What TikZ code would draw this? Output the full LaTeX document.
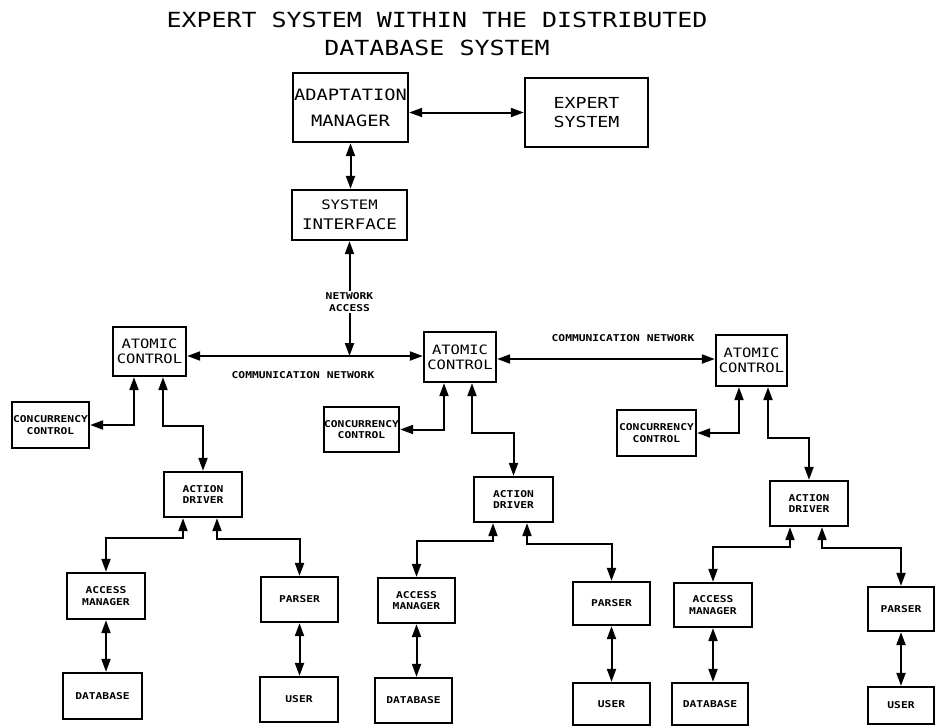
\documentclass[tikz,border=0pt]{standalone}
\usepackage{fontspec}
\usetikzlibrary{arrows.meta}
\newfontfamily\pf{DejaVu Sans Mono}[FakeStretch=1.2]
\tikzset{
  box/.style={draw, line width=2.3pt, inner sep=0pt, align=center},
  dbl/.style={line width=2pt, {Triangle[length=13pt,width=9pt]}-{Triangle[length=13pt,width=9pt]}},
  ttl/.style={font=\pf\fontsize{20.8}{28}\selectfont, align=center},
  midf/.style={font=\pf\fontsize{12.9}{15}\selectfont},
  sml/.style={font=\pf\bfseries\fontsize{9.4}{11.5}\selectfont},
  lbl/.style={font=\pf\bfseries\fontsize{9.4}{12}\selectfont, align=center},
}
\begin{document}
\begin{tikzpicture}[x=1pt,y=-1pt]
\useasboundingbox (0,0) rectangle (936,726);
% title
\node[ttl] (title) at (437,34) {EXPERT SYSTEM WITHIN THE DISTRIBUTED\\DATABASE SYSTEM};
% top boxes
\node[box, minimum width=115pt, minimum height=69pt, font=\pf\fontsize{15.6}{26}\selectfont] (am) at (350.5,107.5) {ADAPTATION\\MANAGER};
\node[box, minimum width=123pt, minimum height=69pt, font=\pf\fontsize{15.2}{19}\selectfont] (es) at (586.5,112.5) {EXPERT\\SYSTEM};
\node[box, minimum width=115pt, minimum height=50pt, font=\pf\fontsize{14.6}{20}\selectfont] (si) at (349.5,215) {{\fontsize{13}{13}\selectfont SYSTEM}\\INTERFACE};
\coordinate (j1) at (349.5,356);
\coordinate (j2) at (600,359);
% atomic controls
\node[box, midf, minimum width=73pt, minimum height=49pt] (lac) at (149.5,351.5) {ATOMIC\\CONTROL};
\node[box, midf, minimum width=72pt, minimum height=50pt] (mac) at (460,357) {ATOMIC\\CONTROL};
\node[box, midf, minimum width=71pt, minimum height=51pt] (rac) at (751.5,360.5) {ATOMIC\\CONTROL};
% concurrency controls
\node[box, sml, minimum width=77pt, minimum height=46pt] (lcc) at (50.5,425) {CONCURRENCY\\CONTROL};
\node[box, sml, minimum width=75pt, minimum height=45pt] (mcc) at (361.5,429.5) {CONCURRENCY\\CONTROL};
\node[box, sml, minimum width=79pt, minimum height=46pt] (rcc) at (656.5,433) {CONCURRENCY\\CONTROL};
% action drivers
\node[box, sml, minimum width=78pt, minimum height=45pt] (lad) at (203,494.5) {ACTION\\DRIVER};
\node[box, sml, minimum width=79pt, minimum height=45pt] (mad) at (513.5,499.5) {ACTION\\DRIVER};
\node[box, sml, minimum width=78pt, minimum height=45pt] (rad) at (809,503.5) {ACTION\\DRIVER};
% access managers
\node[box, sml, minimum width=78pt, minimum height=46pt] (lam) at (106,596) {ACCESS\\MANAGER};
\node[box, sml, minimum width=77pt, minimum height=45pt] (mam) at (416.5,600.5) {ACCESS\\MANAGER};
\node[box, sml, minimum width=78pt, minimum height=44pt] (ram) at (713,605) {ACCESS\\MANAGER};
% databases
\node[box, sml, minimum width=79pt, minimum height=46pt] (ldb) at (102.5,696) {DATABASE};
\node[box, sml, minimum width=77pt, minimum height=45pt] (mdb) at (413.5,700.5) {DATABASE};
\node[box, sml, minimum width=76pt, minimum height=42pt] (rdb) at (710,704) {DATABASE};
% parsers
\node[box, sml, minimum width=77pt, minimum height=45pt] (lpa) at (299.5,599.5) {PARSER};
\node[box, sml, minimum width=77pt, minimum height=43pt] (mpa) at (611.5,603.5) {PARSER};
\node[box, sml, minimum width=66pt, minimum height=44pt] (rpa) at (901,609) {PARSER};
% users
\node[box, sml, minimum width=78pt, minimum height=45pt] (lus) at (299,699.5) {USER};
\node[box, sml, minimum width=77pt, minimum height=42pt] (mus) at (611.5,704) {USER};
\node[box, sml, minimum width=66pt, minimum height=37pt] (rus) at (901,705.5) {USER};
% top connectors
\draw[dbl] (am.east |- es.west) -- (es.west);
\draw[dbl] (am.south) -- (am.south |- si.north);
\draw[dbl] (si.south) -- node[pos=0.53, fill=white, inner sep=1.5pt, lbl] {NETWORK\\ACCESS} (j1);
% communication network
\draw[dbl] (lac.east |- j1) -- (mac.west |- j1);
\draw[dbl] (mac.east |- j2) -- (rac.west |- j2);
\node[sml] (cn1) at (303,375) {COMMUNICATION NETWORK};
\node[sml] (cn2) at (623,338) {COMMUNICATION NETWORK};
% atomic control to concurrency control / action driver
\draw[dbl] ([xshift=-15.5pt]lac.south) |- (lcc.east);
\draw[dbl] ([xshift=13.5pt]lac.south) -- ++(0,49) -| (lad.north);
\draw[dbl] ([xshift=-16pt]mac.south) |- (mcc.east);
\draw[dbl] ([xshift=12pt]mac.south) -- ++(0,50) -| (mad.north);
\draw[dbl] ([xshift=-12.5pt]rac.south) |- (rcc.east);
\draw[dbl] ([xshift=16.5pt]rac.south) -- ++(0,51) -| (rad.north);
% action driver branches
\draw[dbl] ([xshift=-20pt]lad.south) -- ++(0,20) -| (lam.north);
\draw[dbl] ([xshift=14pt]lad.south) -- ++(0,21) -| (lpa.north);
\draw[dbl] ([xshift=-20.5pt]mad.south) -- ++(0,18) -| (mam.north);
\draw[dbl] ([xshift=13.5pt]mad.south) -- ++(0,21) -| (mpa.north);
\draw[dbl] ([xshift=-19pt]rad.south) -- ++(0,20) -| (ram.north);
\draw[dbl] ([xshift=13pt]rad.south) -- ++(0,21) -| (rpa.north);
% manager/database and parser/user
\draw[dbl] (lam.south) -- (lam.south |- ldb.north);
\draw[dbl] (mam.south) -- (mam.south |- mdb.north);
\draw[dbl] (ram.south) -- (ram.south |- rdb.north);
\draw[dbl] (lpa.south) -- (lpa.south |- lus.north);
\draw[dbl] (mpa.south) -- (mpa.south |- mus.north);
\draw[dbl] (rpa.south) -- (rpa.south |- rus.north);
\end{tikzpicture}
\end{document}
